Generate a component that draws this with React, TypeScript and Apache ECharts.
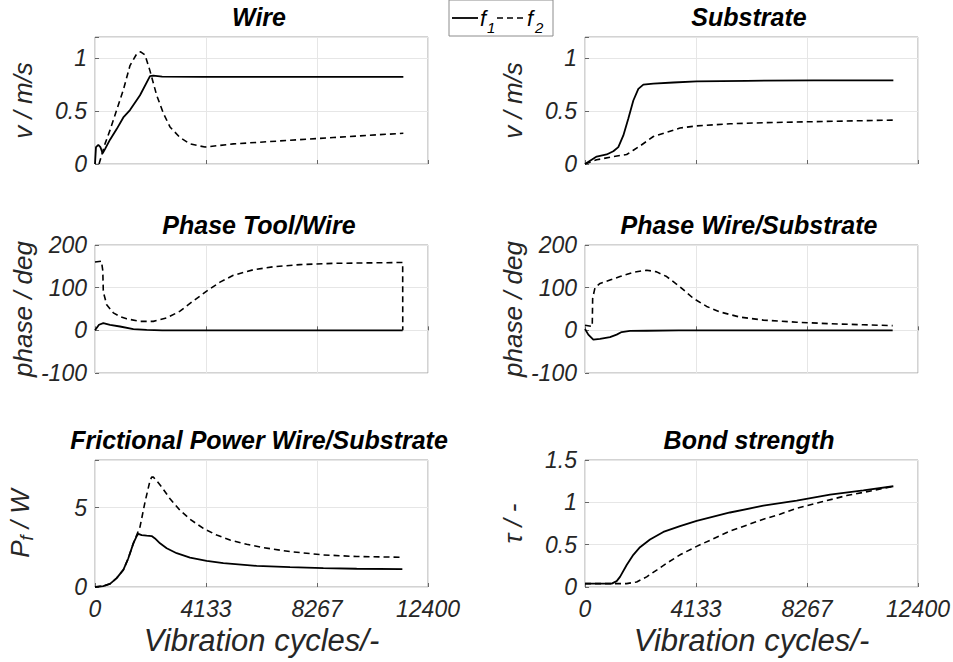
import { useEffect, useRef } from "react";
import * as echarts from "echarts";

// ---- data (x = vibration cycles) ----
const xTickLabels = [0, 4133, 8267, 12400];

const wireF1: [number, number][] = [
  [0, 0], [37, 0.16], [124, 0.18], [200, 0.16], [285, 0.1], [372, 0.14], [559, 0.23], [807, 0.33],
  [1055, 0.44], [1303, 0.51], [1676, 0.65], [2048, 0.83], [2172, 0.835], [2500, 0.826], [4000, 0.824],
  [8000, 0.823], [11482, 0.823],
];
const wireF2: [number, number][] = [
  [150, 0], [372, 0.19], [559, 0.32], [807, 0.51], [1055, 0.7], [1303, 0.93], [1552, 1.04], [1700, 1.06],
  [1862, 1.03], [2048, 0.88], [2296, 0.65], [2545, 0.48], [2793, 0.35], [3165, 0.25], [3538, 0.19],
  [4096, 0.16], [5151, 0.19], [6393, 0.21], [7634, 0.23], [8876, 0.25], [10117, 0.27], [11482, 0.29],
];
const subF1: [number, number][] = [
  [0, 0], [435, 0.07], [807, 0.09], [1055, 0.12], [1241, 0.16], [1428, 0.27], [1614, 0.43], [1800, 0.6],
  [1986, 0.71], [2172, 0.75], [2545, 0.76], [3290, 0.77], [4158, 0.78], [6020, 0.786], [8503, 0.79],
  [11482, 0.79],
];
const subF2: [number, number][] = [
  [0, 0], [435, 0.04], [1055, 0.07], [1552, 0.09], [1800, 0.13], [2048, 0.17], [2545, 0.26], [3041, 0.3],
  [3538, 0.34], [4158, 0.36], [5400, 0.38], [6641, 0.39], [8503, 0.4], [11482, 0.415],
];
const ptwF1: [number, number][] = [
  [0, 0], [149, 13], [310, 17], [559, 13], [931, 9], [1428, 3], [1924, 1], [2500, 0], [11457, 0],
];
const ptwF2: [number, number][] = [
  [0, 160], [240, 162], [290, 140], [310, 90], [435, 60], [683, 41], [931, 32], [1179, 27], [1676, 21],
  [2172, 21], [2669, 29], [3165, 45], [3662, 69], [4158, 92], [4655, 113], [5151, 129], [5896, 142],
  [6641, 149], [7634, 154], [8876, 157], [10117, 158], [11457, 159], [11460, 0],
];
const pwsF1: [number, number][] = [
  [0, 3], [124, -10], [310, -22], [559, -20], [931, -16], [1179, -10], [1365, -4], [1676, -1.5],
  [2296, -1], [3500, -0.3], [11457, 0],
];
const pwsF2: [number, number][] = [
  [0, 12], [270, 9], [285, 75], [372, 100], [559, 110], [931, 118], [1303, 126], [1800, 136], [2296, 141],
  [2669, 137], [3041, 126], [3538, 102], [4034, 75], [4531, 56], [5027, 43], [5772, 31], [6641, 24],
  [7883, 19], [9124, 15.5], [10365, 13], [11457, 11],
];
const fpF1: [number, number][] = [
  [0, 0], [310, 0.06], [559, 0.2], [807, 0.56], [1055, 1.08], [1241, 1.81], [1428, 2.75], [1552, 3.2],
  [1614, 3.35], [1738, 3.27], [1924, 3.23], [2110, 3.21], [2234, 3.06], [2421, 2.75], [2669, 2.44],
  [3041, 2.13], [3538, 1.85], [4158, 1.65], [4779, 1.5], [6020, 1.33], [7262, 1.25], [8503, 1.19],
  [9745, 1.15], [11445, 1.12],
];
const fpF2: [number, number][] = [
  [0, 0], [310, 0.06], [559, 0.2], [807, 0.56], [1055, 1.08], [1241, 1.81], [1428, 2.75], [1676, 3.79],
  [1862, 5.35], [2048, 6.7], [2110, 6.92], [2172, 6.92], [2296, 6.7], [2483, 6.3], [2793, 5.56],
  [3165, 4.83], [3538, 4.27], [4034, 3.69], [4531, 3.27], [5027, 2.96], [5648, 2.69], [6269, 2.48],
  [7262, 2.23], [8503, 2.02], [9745, 1.92], [11482, 1.875],
];
const bondF1: [number, number][] = [
  [0, 0.04], [993, 0.04], [1179, 0.07], [1303, 0.12], [1552, 0.26], [1800, 0.38], [2048, 0.47],
  [2421, 0.56], [2917, 0.65], [3538, 0.72], [4158, 0.78], [5400, 0.88], [6641, 0.96], [7883, 1.02],
  [9124, 1.09], [10365, 1.14], [11482, 1.19],
];
const bondF2: [number, number][] = [
  [0, 0.04], [1552, 0.04], [1924, 0.06], [2296, 0.12], [2669, 0.2], [3041, 0.28], [3538, 0.38],
  [4158, 0.48], [4779, 0.57], [5400, 0.66], [6020, 0.73], [6641, 0.8], [7262, 0.86], [7883, 0.93],
  [8503, 0.98], [9745, 1.08], [10737, 1.14], [11482, 1.19],
];

const titles = [
  "Wire", "Substrate", "Phase Tool/Wire", "Phase Wire/Substrate",
  "Frictional Power Wire/Substrate", "Bond strength",
];
const yNames = ["v / m/s", "v / m/s", "phase / deg", "phase / deg", "{a|P}{s|f}{a| / W}", "τ / -"];
const yMins = [0, 0, -100, -100, 0, 0];
const yMaxs = [1.2, 1.2, 200, 200, 8, 1.5];
const yIntervals = [0.5, 0.5, 100, 100, 5, 0.5];
const seriesF1 = [wireF1, subF1, ptwF1, pwsF1, fpF1, bondF1];
const seriesF2 = [wireF2, subF2, ptwF2, pwsF2, fpF2, bondF2];

const FONT = "'Liberation Sans', Arial, sans-serif";
const X_MAX = xTickLabels[xTickLabels.length - 1];

export default function App() {
  const ref = useRef<HTMLDivElement>(null);
  useEffect(() => {
    if (!ref.current) return;
    const chart = echarts.init(ref.current, null, { renderer: "svg" });

    const lefts = [95, 585];
    const tops = [37, 245, 460];
    const heights = [127, 128, 127];
    const titleTops = [4, 212, 427];

    const grids: any[] = [];
    const xAxes: any[] = [];
    const yAxes: any[] = [];
    const series: any[] = [];
    const titleArr: any[] = [];

    for (let i = 0; i < 6; i++) {
      const col = i % 2;
      const row = Math.floor(i / 2);
      grids.push({
        left: lefts[col], top: tops[row], width: 333, height: heights[row],
        show: true, borderColor: "#a6a6a6", borderWidth: 1, backgroundColor: "#fff",
      });
      titleArr.push({
        text: titles[i], left: lefts[col] + 164, top: titleTops[row], textAlign: "center", padding: 0,
        textStyle: { fontFamily: FONT, fontSize: 25, fontWeight: "bold", fontStyle: "italic", color: "#000" },
      });
      const interval = X_MAX / 3;
      xAxes.push({
        gridIndex: i, type: "value", min: 0, max: X_MAX, interval,
        axisLine: { show: false },
        axisTick: { show: true, inside: true, length: 4, lineStyle: { color: "#666" } },
        splitLine: { show: true, lineStyle: { color: "#e6e6e6", width: 1 } },
        axisLabel: {
          show: row === 2, margin: 10, fontFamily: FONT, fontSize: 23, fontStyle: "italic", color: "#262626",
          formatter: (v: number) => String(Math.round(v)),
        },
        name: row === 2 ? "Vibration cycles/-" : "",
        nameLocation: "middle", nameGap: 38,
        nameTextStyle: { fontFamily: FONT, fontSize: 31, fontStyle: "italic", color: "#262626" },
      });
      const yi = yIntervals[i];
      yAxes.push({
        gridIndex: i, type: "value", min: yMins[i], max: yMaxs[i], interval: yi,
        axisLine: { show: false },
        axisTick: { show: true, inside: true, length: 4, lineStyle: { color: "#666" } },
        splitLine: { show: true, lineStyle: { color: "#e6e6e6", width: 1 } },
        axisLabel: {
          margin: 8, fontFamily: FONT, fontSize: 23, fontStyle: "italic", color: "#262626",
          formatter: (v: number) => {
            const k = v / yi;
            return Math.abs(k - Math.round(k)) < 1e-6 ? String(Math.round(v * 100) / 100) : "";
          },
        },
        name: yNames[i], nameLocation: "middle", nameGap: 59,
        nameTextStyle: {
          fontFamily: FONT, fontSize: 26, fontStyle: "italic", color: "#262626",
          rich: {
            a: { fontFamily: FONT, fontSize: 26, fontStyle: "italic", color: "#262626" },
            s: { fontFamily: FONT, fontSize: 18, fontStyle: "italic", color: "#262626", verticalAlign: "bottom", padding: [14, 0, 0, 0] },
          },
        },
      });
      series.push({
        type: "line", xAxisIndex: i, yAxisIndex: i, data: seriesF1[i], showSymbol: false,
        lineStyle: { color: "#000", width: 1.8, type: "solid" }, z: 3,
      });
      series.push({
        type: "line", xAxisIndex: i, yAxisIndex: i, data: seriesF2[i], showSymbol: false,
        lineStyle: { color: "#000", width: 1.6, type: [6, 4] }, z: 3,
      });
    }

    const legendFont = { fontFamily: FONT, fontStyle: "italic", fill: "#000" };
    const graphic: any[] = [
      { type: "rect", shape: { x: 449, y: 0, width: 104, height: 36 }, style: { fill: "#fff", stroke: "#8c8c8c", lineWidth: 1 }, z: 10 },
      { type: "line", shape: { x1: 452, y1: 18, x2: 478, y2: 18 }, style: { stroke: "#000", lineWidth: 1.8 }, z: 11 },
      { type: "text", x: 480, y: 18, style: { ...legendFont, text: "f", fontSize: 22, verticalAlign: "middle" }, z: 11 },
      { type: "text", x: 487, y: 27, style: { ...legendFont, text: "1", fontSize: 15, verticalAlign: "middle" }, z: 11 },
      { type: "line", shape: { x1: 497, y1: 18, x2: 525, y2: 18 }, style: { stroke: "#000", lineWidth: 1.6, lineDash: [6, 4] }, z: 11 },
      { type: "text", x: 527, y: 18, style: { ...legendFont, text: "f", fontSize: 22, verticalAlign: "middle" }, z: 11 },
      { type: "text", x: 535, y: 27, style: { ...legendFont, text: "2", fontSize: 15, verticalAlign: "middle" }, z: 11 },
    ];

    chart.setOption({
      animation: false,
      backgroundColor: "#fff",
      title: titleArr,
      grid: grids,
      xAxis: xAxes,
      yAxis: yAxes,
      series,
      graphic,
    });
    return () => chart.dispose();
  }, []);
  return (
    <div
      ref={ref}
      style={{ position: "fixed", left: 0, top: 0, width: 953, height: 662, background: "#fff" }}
    />
  );
}
